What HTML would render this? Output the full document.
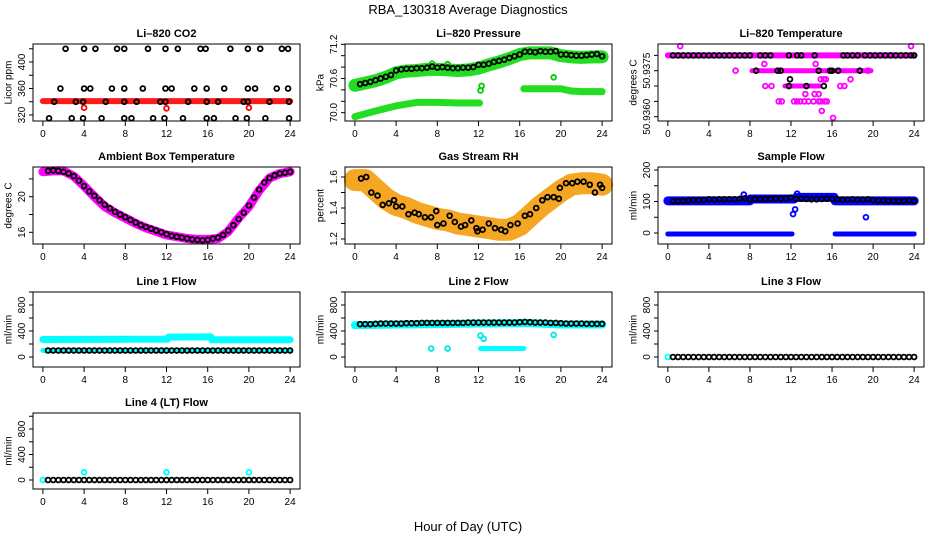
<!DOCTYPE html>
<html><head><meta charset="utf-8"><style>
body{margin:0;background:#fff;width:936px;height:540px;overflow:hidden}
svg{display:block;font-family:"Liberation Sans",Arial,sans-serif}
</style></head><body>
<svg id="chart" width="936" height="540" viewBox="0 0 936 540">
<text x="468" y="14" text-anchor="middle" font-size="13">RBA_130318  Average Diagnostics</text>
<text x="468" y="531" text-anchor="middle" font-size="13">Hour of Day (UTC)</text>
</svg>
<script>
// ---- shared data ----
const xTicks=[0,4,8,12,16,20,24];
const halfHours=[0.5,1,1.5,2,2.5,3,3.5,4,4.5,5,5.5,6,6.5,7,7.5,8,8.5,9,9.5,10,10.5,11,11.5,12,12.5,13,13.5,14,14.5,15,15.5,16,16.5,17,17.5,18,18.5,19,19.5,20,20.5,21,21.5,22,22.5,23,23.5,24];
const hours=[0,1,2,3,4,5,6,7,8,9,10,11,12,13,14,15,16,17,18,19,20,21,22,23,24];
// CO2
const co2BandHours=[0,24];
const co2BandValues=[341,341];
const co2RedHours=[4,12,20];
const co2RedValues=[331,330,331];
const co2BlackHours=[2.2,4.0,5.1,7.2,7.9,10.2,11.9,13.1,15.3,15.8,18.2,19.9,21.1,23.2,23.8,1.7,4.0,4.6,6.7,7.9,9.7,11.9,12.5,14.7,15.9,17.6,19.9,20.6,22.7,23.8,1.1,3.2,3.9,6.1,7.9,9.1,11.4,11.9,14.1,15.9,17.0,19.5,19.9,22.0,23.9,0.6,2.8,3.9,5.7,7.9,8.6,10.7,11.8,13.6,15.9,16.6,18.7,19.8,21.6,23.9];
const co2BlackValues=[420,420,420,420,420,420,420,420,420,420,420,420,420,420,420,360,360,360,360,360,360,360,360,360,360,360,360,360,360,360,340,340,340,340,340,340,340,340,340,340,340,340,340,340,340,315,315,315,315,315,315,315,315,315,315,315,315,315,315,315];
// Pressure
const presUpper=[70.48,70.52,70.56,70.62,70.70,70.73,70.74,70.76,70.76,70.75,70.74,70.75,70.78,70.84,70.89,70.95,71.02,71.05,71.05,71.05,71.00,70.98,70.97,70.98,70.98];
const presLowerHours=[0,2,4,6,8,10,12.1];
const presLowerValues=[69.93,70.03,70.12,70.18,70.18,70.17,70.17];
const presLower2Hours=[16.4,18,20,21,22,24];
const presLower2Values=[70.42,70.42,70.42,70.38,70.37,70.37];
const presGreenHours=[12.2,12.3,19.3,7.5,9.0];
const presGreenValues=[70.39,70.47,70.62,70.86,70.85];
const presBlack=[70.50,70.52,70.54,70.57,70.60,70.63,70.66,70.74,70.76,70.77,70.77,70.78,70.78,70.79,70.81,70.79,70.80,70.79,70.78,70.78,70.79,70.79,70.80,70.84,70.84,70.86,70.89,70.91,70.93,70.96,70.99,71.02,71.07,71.07,71.06,71.08,71.07,71.07,71.08,71.02,71.02,71.01,71.00,71.00,71.01,71.02,71.03,70.99];
// Li-820 temperature
const tBandHours=[0,24];
const tBandValues=[50.938,50.938];
const tBand2Hours=[8.2,19.8];
const tBand2Values=[50.9375,50.9375];
const tBand3Hours=[11.4,14.8];
const tBand3Values=[50.937,50.937];
const tMagHours=[1.2,23.7,6.6,19.5,9.4,14.4,9.5,10.1,16.8,17.2,14.9,15.2,15.4,17.8,13.4,14.3,14.7,10.8,11.1,12.3,12.6,12.9,13.3,13.7,14.2,14.7,14.9,15.3,15.5,15.0,16.1];
const tMagValues=[50.9383,50.9383,50.9375,50.9375,50.93772,50.93772,50.937,50.937,50.937,50.937,50.93722,50.93722,50.93722,50.93722,50.93674,50.93674,50.93674,50.9365,50.9365,50.9365,50.9365,50.9365,50.9365,50.9365,50.9365,50.9365,50.9365,50.9365,50.9365,50.93619,50.93596];
const tBlackHours=[0.5,1,1.5,2,2.5,3,3.5,4,4.5,5,5.5,6,6.5,7,7.5,8,9,9.5,10,11.8,12.6,13,14.3,17.1,17.5,18,18.5,19.2,19.7,20.2,20.7,21.2,21.7,22.2,22.7,23.2,23.7,24,8.6,10.7,11.0,14.7,15.8,16.0,16.6,18.7,11.8,13.5,15.2,11.9];
const tBlackValues=[50.938,50.938,50.938,50.938,50.938,50.938,50.938,50.938,50.938,50.938,50.938,50.938,50.938,50.938,50.938,50.938,50.938,50.938,50.938,50.938,50.938,50.938,50.938,50.938,50.938,50.938,50.938,50.938,50.938,50.938,50.938,50.938,50.938,50.938,50.938,50.938,50.938,50.938,50.9375,50.9375,50.9375,50.9375,50.9375,50.9375,50.9375,50.9375,50.937,50.937,50.937,50.93722];
// Ambient
const ambBand=[22.8,22.9,22.9,22.3,21.2,20.0,18.9,18.2,17.6,17.0,16.5,16.1,15.7,15.5,15.3,15.2,15.2,15.3,16.1,17.6,18.9,20.7,22.1,22.6,22.8];
const ambBlack=[22.9,22.95,22.9,22.8,22.6,22.3,21.8,21.2,20.6,20.1,19.6,19.1,18.7,18.3,18.0,17.7,17.4,17.1,16.8,16.6,16.4,16.2,16.0,15.8,15.6,15.5,15.4,15.3,15.2,15.15,15.1,15.15,15.3,15.4,15.7,16.2,16.8,17.5,18.2,19.0,19.9,20.8,21.6,22.1,22.4,22.6,22.7,22.8];
// RH
const rhBand=[1.58,1.58,1.52,1.46,1.42,1.40,1.37,1.35,1.33,1.32,1.30,1.29,1.28,1.27,1.26,1.26,1.29,1.35,1.41,1.46,1.51,1.55,1.56,1.56,1.55];
const rhBlackHours=[0.6,1.1,1.6,2.2,2.7,3.3,3.8,4.0,4.6,5.2,5.8,6.2,6.8,7.4,7.9,8.0,8.6,9.2,9.7,10.3,10.7,11.3,11.8,11.9,12.4,13.0,13.6,14.2,14.6,15.1,15.8,16.5,17.0,17.6,18.2,18.7,19.3,19.8,19.9,20.5,21.1,21.6,22.2,22.8,23.3,23.8,24.0];
const rhBlackValues=[1.59,1.60,1.50,1.48,1.42,1.43,1.45,1.41,1.41,1.36,1.37,1.36,1.34,1.34,1.38,1.29,1.30,1.35,1.31,1.28,1.29,1.32,1.27,1.25,1.26,1.30,1.27,1.26,1.25,1.29,1.30,1.35,1.36,1.40,1.45,1.47,1.47,1.46,1.53,1.56,1.56,1.57,1.57,1.55,1.50,1.55,1.53];
// Sample flow
const sfBandHours=[0,8,8.01,12.3,12.5,16.2,16.3,24];
const sfBandValues=[102,102,108,108,113,113,102,102];
const sfLowHours=[0,12.1];
const sfLowValues=[-3,-3];
const sfLow2Hours=[16.3,24];
const sfLow2Values=[-3,-3];
const sfBlueHours=[12.2,12.4,19.3,7.4,12.6];
const sfBlueValues=[60,75,50,122,125];
const sfBlack=[101,101,102,103,104,104,105,107,106,107,107,107,107,108,110,106,108,107,108,108,110,109,110,112,108,109,108,107,107,108,109,108,107,106,106,107,106,106,107,104,103,103,102,102,101,102,103,101];
// Line flows
const l1BandHours=[0,12.1,12.2,16.3,16.4,24];
const l1BandValues=[270,275,305,310,265,265];
const l1Low=[100,100];
const l1LowHours=[0,24];
const l1Black=[100,100,100,100,100,100,100,100,100,100,100,100,100,100,100,100,100,100,100,100,100,100,100,100,100,100,100,100,100,100,100,100,100,100,100,100,100,100,100,100,100,100,100,100,100,100,100,100];
const l2BandHours=[0,4,8,12,16,16.5,20,24];
const l2BandValues=[490,500,505,515,520,525,500,500];
const l2LowHours=[12.2,16.4];
const l2LowValues=[130,130];
const l2CyanHours=[7.4,9.0,12.2,12.5,19.3];
const l2CyanValues=[130,130,330,280,340];
const l2Black=[505,505,505,510,515,515,515,515,515,520,520,520,525,525,525,525,525,525,525,525,525,530,530,530,530,530,530,530,530,530,530,535,540,535,530,530,530,525,525,520,515,515,515,515,510,510,510,510];
const l3CyanHours=[0];
const l3CyanValues=[0];
const l3Black=[0,0,0,0,0,0,0,0,0,0,0,0,0,0,0,0,0,0,0,0,0,0,0,0,0,0,0,0,0,0,0,0,0,0,0,0,0,0,0,0,0,0,0,0,0,0,0,0];
const l4CyanHours=[0,4,12,20];
const l4CyanValues=[0,120,120,120];
const l4Black=[0,0,0,0,0,0,0,0,0,0,0,0,0,0,0,0,0,0,0,0,0,0,0,0,0,0,0,0,0,0,0,0,0,0,0,0,0,0,0,0,0,0,0,0,0,0,0,0];

const NS="http://www.w3.org/2000/svg";
const svg=document.getElementById('chart');
function mk(tag,attrs,parent){const e=document.createElementNS(NS,tag);for(const k in attrs)e.setAttribute(k,attrs[k]);(parent||svg).appendChild(e);return e;}
const cols=[[33,300],[345,612],[658,924]];
const rows=[[44,121],[167,244],[292,367],[413,489]];
function makePanel(col,row,name,title,ylab,ymin,ymax,ticks,labels){
  const [x0,x1]=cols[col],[y0,y1]=rows[row];
  const g=mk('g',{});
  
  
  const sx=h=>x0+(h+0.96)/(25.92)*(x1-x0);
  const sy=v=>y1-(v-ymin)/(ymax-ymin)*(y1-y0);
  const t=mk('text',{x:(x0+x1)/2,y:y0-7,'text-anchor':'middle','font-size':11,'font-weight':'bold'},g);
  t.textContent=title;
  
  
  const yl=mk('text',{x:0,y:0,'text-anchor':'middle','font-size':10,transform:`translate(${x0-21.5},${(y0+y1)/2}) rotate(-90)`},g);
  yl.textContent=ylab;
  
  
  const xa=mk('g',{},g);
  
  
  mk('line',{x1:sx(0),x2:sx(24),y1:y1,y2:y1,stroke:'#000'},xa);
  xTicks.forEach(h=>{
    mk('line',{x1:sx(h),x2:sx(h),y1:y1,y2:y1+5,stroke:'#000'},xa);
    const l=mk('text',{x:sx(h),y:y1+16,'text-anchor':'middle','font-size':10},xa);l.textContent=h;
  });
  const ya=mk('g',{},g);
  
  
  ticks.forEach(v=>{mk('line',{x1:x0-4,x2:x0,y1:sy(v),y2:sy(v),stroke:'#000'},ya);});
  mk('line',{x1:x0,x2:x0,y1:sy(ticks[0]),y2:sy(ticks[ticks.length-1]),stroke:'#000'},ya);
  labels.forEach(v=>{const l=mk('text',{x:0,y:0,'text-anchor':'middle','font-size':10,transform:`translate(${x0-8},${sy(v)}) rotate(-90)`},ya);l.textContent=v;});
  const data=mk('g',{},g);
  
  
  mk('rect',{x:x0,y:y0,width:x1-x0,height:y1-y0,fill:'none',stroke:'#000'},g);
  return {
    band(hs,vs,color,w){const p=mk('polyline',{points:hs.map((h,i)=>sx(h)+','+sy(vs[i])).join(' '),fill:'none',stroke:color,'stroke-width':w,'stroke-linecap':'round','stroke-linejoin':'round'},data);
      
      },
    pts(hs,vs,color){hs.forEach((h,i)=>{const c=mk('circle',{cx:sx(h),cy:sy(vs[i]),r:2.4,fill:'none',stroke:color,'stroke-width':1.8},data);
      
      });}
  };
}
let p;
p=makePanel(0,0,'co2-panel','Li\u2013820 CO2','Licor ppm',310.9,427.2,[320,340,360,380,400,420],['320','360','400']);
p.band(co2BandHours,co2BandValues,'#ff1a1a',6);p.pts(co2RedHours,co2RedValues,'#ff0000');p.pts(co2BlackHours,co2BlackValues,'#000');
p=makePanel(1,0,'pressure-panel','Li\u2013820 Pressure','kPa',69.854,71.205,[70,70.2,70.4,70.6,70.8,71,71.2],['70.0','70.6','71.2']);
p.band(hours,presUpper,'#22dd22',13);p.band(presLowerHours,presLowerValues,'#22dd22',7);p.band(presLower2Hours,presLower2Values,'#22dd22',7);p.pts(presGreenHours,presGreenValues,'#00cc00');p.pts(halfHours,presBlack,'#000');
p=makePanel(2,0,'temperature-panel','Li\u2013820 Temperature','degrees C',50.93586,50.938371,[50.936,50.9365,50.937,50.9375,50.938],['50.9360','50.9375']);
p.band(tBandHours,tBandValues,'#ff00ff',6);p.band(tBand2Hours,tBand2Values,'#ff00ff',5);p.band(tBand3Hours,tBand3Values,'#ff00ff',5);p.pts(tMagHours,tMagValues,'#ff00ff');p.pts(tBlackHours,tBlackValues,'#000');
p=makePanel(0,1,'ambient-panel','Ambient Box Temperature','degrees C',14.685,23.337,[16,18,20,22],['16','20']);
p.band(hours,ambBand,'#ff00ff',9);p.pts(halfHours,ambBlack,'#000');
p=makePanel(1,1,'rh-panel','Gas Stream RH','percent',1.1677,1.6645,[1.2,1.3,1.4,1.5,1.6],['1.2','1.4','1.6']);
p.band(hours,rhBand,'#f5a623',22);p.pts(rhBlackHours,rhBlackValues,'#000');
p=makePanel(2,1,'sample-flow-panel','Sample Flow','ml/min',-34.9,209.5,[0,50,100,150,200],['0','100','200']);
p.band(sfBandHours,sfBandValues,'#0000ff',9);p.band(sfLowHours,sfLowValues,'#0000ff',5);p.band(sfLow2Hours,sfLow2Values,'#0000ff',5);p.pts(sfBlueHours,sfBlueValues,'#0000ff');p.pts(halfHours,sfBlack,'#000');
p=makePanel(0,2,'line1-flow-panel','Line 1 Flow','ml/min',-153.8,1000,[0,200,400,600,800,1000],['0','400','800']);
p.band(l1BandHours,l1BandValues,'#00ffff',7);p.band(l1LowHours,l1Low,'#00ffff',5);p.pts(halfHours,l1Black,'#000');
p=makePanel(1,2,'line2-flow-panel','Line 2 Flow','ml/min',-153.8,1000,[0,200,400,600,800,1000],['0','400','800']);
p.band(l2BandHours,l2BandValues,'#00ffff',8);p.band(l2LowHours,l2LowValues,'#00ffff',5);p.pts(l2CyanHours,l2CyanValues,'#00e5e5');p.pts(halfHours,l2Black,'#000');
p=makePanel(2,2,'line3-flow-panel','Line 3 Flow','ml/min',-153.8,1000,[0,200,400,600,800,1000],['0','400','800']);
p.pts(l3CyanHours,l3CyanValues,'#00ffff');p.pts(halfHours,l3Black,'#000');
p=makePanel(0,3,'line4-flow-panel','Line 4 (LT) Flow','ml/min',-141,1051,[0,200,400,600,800,1000],['0','400','800']);
p.pts(l4CyanHours,l4CyanValues,'#00ffff');p.pts(halfHours,l4Black,'#000');
</script>
</body></html>
